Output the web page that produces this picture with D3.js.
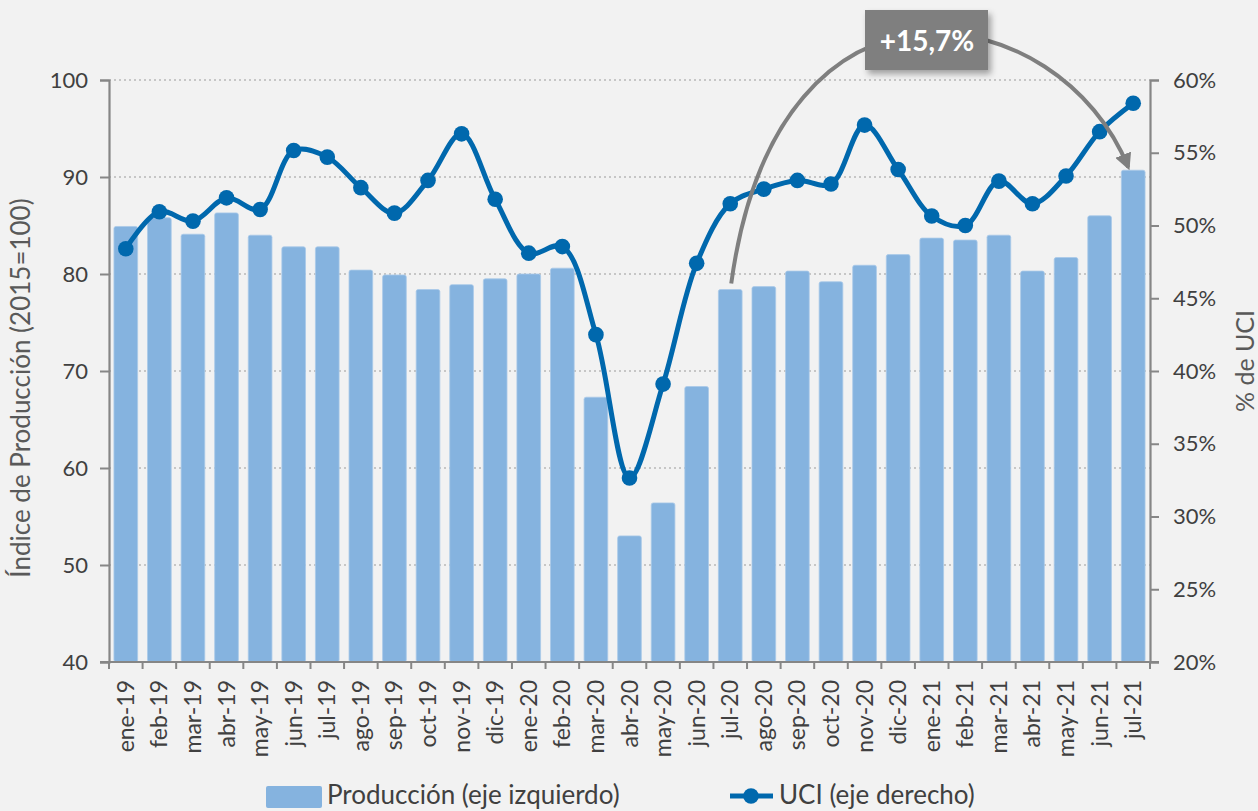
<!DOCTYPE html>
<html>
<head>
<meta charset="utf-8">
<script src="https://cdn.jsdelivr.net/npm/d3@7"></script>
<style>
  body { margin: 0; background: #f2f2f2; }
  svg { display: block; font-family: Lato, "Open Sans", sans-serif; }
</style>
</head>
<body>
<svg id="chart" width="1258" height="811"></svg>
<script>
// data
var months = ["ene-19","feb-19","mar-19","abr-19","may-19","jun-19","jul-19","ago-19","sep-19","oct-19","nov-19","dic-19",
  "ene-20","feb-20","mar-20","abr-20","may-20","jun-20","jul-20","ago-20","sep-20","oct-20","nov-20","dic-20",
  "ene-21","feb-21","mar-21","abr-21","may-21","jun-21","jul-21"];
var produccion = [84.9,85.8,84.1,86.3,84.0,82.8,82.8,80.4,79.9,78.4,78.9,79.5,
  80.0,80.6,67.3,53.0,56.4,68.4,78.4,78.7,80.3,79.2,80.9,82.0,
  83.7,83.5,84.0,80.3,81.7,86.0,90.7];
var uci = [48.4,50.95,50.3,51.9,51.1,55.15,54.7,52.6,50.85,53.1,56.3,51.8,
  48.1,48.55,42.5,32.65,39.1,47.4,51.5,52.5,53.1,52.85,56.9,53.85,
  50.65,50.0,53.05,51.5,53.4,56.45,58.4];
var leftTicks = [40,50,60,70,80,90,100];
var rightTicks = [20,25,30,35,40,45,50,55,60];
var annotationText = "+15,7%";

var svg = d3.select("#chart");
var mLeft = 109, mRight = 1150, mTop = 80, mBottom = 662;
var axisColor = "#868686", textColor = "#404040";

var x = d3.scaleBand().domain(months).range([mLeft, mRight]).paddingInner(0.295).paddingOuter(0.1475);
var yL = d3.scaleLinear().domain([40, 100]).range([mBottom, mTop]);
var yR = d3.scaleLinear().domain([20, 60]).range([mBottom, mTop]);

svg.append("rect").attr("width", 1258).attr("height", 811).attr("fill", "#f2f2f2");

var defs = svg.append("defs");
var shadow = defs.append("filter").attr("id", "shadow").attr("x", "-20%").attr("y", "-20%").attr("width", "150%").attr("height", "160%");
shadow.append("feDropShadow").attr("dx", 3).attr("dy", 4).attr("stdDeviation", 3).attr("flood-color", "#000").attr("flood-opacity", 0.35);
defs.append("marker").attr("id", "arrow").attr("viewBox", "0 0 10 10").attr("refX", 8).attr("refY", 5)
  .attr("markerWidth", 4.2).attr("markerHeight", 4.2).attr("orient", "auto")
  .append("path").attr("d", "M0,0 L10,5 L0,10 z").attr("fill", "#7f7f7f");

// grid lines
svg.append("g").selectAll("line").data(leftTicks.filter(function(d){ return d > 40; }))
  .enter().append("line")
  .attr("x1", mLeft).attr("x2", mRight)
  .attr("y1", function(d){ return yL(d); }).attr("y2", function(d){ return yL(d); })
  .attr("stroke", "#b8b8b8").attr("stroke-width", 1.3).attr("stroke-dasharray", "2,3");

// bars
svg.append("g").selectAll("rect").data(produccion).enter().append("rect")
  .attr("x", function(d, i){ return x(months[i]); })
  .attr("y", function(d){ return yL(d); })
  .attr("width", x.bandwidth())
  .attr("height", function(d){ return yL(40) - yL(d); })
  .attr("rx", 2)
  .attr("fill", "#85b3df")
  .attr("stroke", "#a9c9e9").attr("stroke-width", 0.8);

// axes
var gl = svg.append("g").attr("transform", "translate(" + mLeft + ",0)")
  .call(d3.axisLeft(yL).tickValues(leftTicks).tickSize(9).tickPadding(12));
var gr = svg.append("g").attr("transform", "translate(" + mRight + ",0)")
  .call(d3.axisRight(yR).tickValues(rightTicks).tickSize(9).tickPadding(14).tickFormat(function(d){ return d + "%"; }));
[gl, gr].forEach(function(g){
  g.select(".domain").attr("stroke", axisColor).attr("stroke-width", 2.2);
  g.selectAll(".tick line").attr("stroke", axisColor).attr("stroke-width", 2);
  g.selectAll("text").attr("fill", textColor).style("font-size", "22px").style("font-family", "Lato, sans-serif");
});

// x axis: line, ticks at category boundaries, rotated labels
var gx = svg.append("g");
gx.append("line").attr("x1", mLeft - 9).attr("x2", mRight + 9).attr("y1", mBottom).attr("y2", mBottom)
  .attr("stroke", axisColor).attr("stroke-width", 2.2);
gx.selectAll("line.tk").data(d3.range(months.length + 1)).enter().append("line").attr("class", "tk")
  .attr("x1", function(i){ return mLeft + x.step() * i; })
  .attr("x2", function(i){ return mLeft + x.step() * i; })
  .attr("y1", mBottom).attr("y2", mBottom + 7)
  .attr("stroke", axisColor).attr("stroke-width", 2);
gx.selectAll("text").data(months).enter().append("text")
  .attr("transform", function(d){ return "translate(" + (x(d) + x.bandwidth() / 2 + 8) + "," + (mBottom + 18) + ") rotate(-90)"; })
  .attr("text-anchor", "end")
  .attr("fill", textColor).style("font-size", "23px")
  .text(function(d){ return d; });

// axis titles
svg.append("text").attr("transform", "translate(30,388) rotate(-90)").attr("text-anchor", "middle")
  .attr("fill", "#595959").style("font-size", "26px").text("Índice de Producción (2015=100)");
svg.append("text").attr("transform", "translate(1254,361) rotate(-90)").attr("text-anchor", "middle")
  .attr("fill", "#595959").style("font-size", "25px").text("% de UCI");

// UCI line
var line = d3.line()
  .x(function(d, i){ return x(months[i]) + x.bandwidth() / 2; })
  .y(function(d){ return yR(d); })
  .curve(d3.curveCatmullRom.alpha(0.5));
svg.append("path").datum(uci).attr("d", line).attr("fill", "none")
  .attr("stroke", "#0068ad").attr("stroke-width", 5);
svg.append("g").selectAll("circle").data(uci).enter().append("circle")
  .attr("cx", function(d, i){ return x(months[i]) + x.bandwidth() / 2; })
  .attr("cy", function(d){ return yR(d); })
  .attr("r", 7.8).attr("fill", "#0068ad");

// annotation arc from jul-20 bar to jul-21 bar
var iA = months.indexOf("jul-20"), iB = months.indexOf("jul-21");
var ax0 = x(months[iA]) + x.bandwidth() / 2 + 1, ay0 = yL(produccion[iA]) - 6;
var ax1 = x(months[iB]) + x.bandwidth() / 2 - 5, ay1 = yL(produccion[iB]) - 3;
var arc = d3.path();
arc.moveTo(ax0, ay0);
arc.bezierCurveTo(ax0 + 47, -60, ax1 - 67, 0, ax1, ay1);
svg.append("path").attr("d", arc.toString()).attr("fill", "none")
  .attr("stroke", "#7f7f7f").attr("stroke-width", 4).attr("marker-end", "url(#arrow)");

var box = svg.append("g").attr("transform", "translate(865,10)");
box.append("rect").attr("width", 123).attr("height", 60).attr("fill", "#7f7f7f").attr("filter", "url(#shadow)");
box.append("text").attr("x", 62).attr("y", 41).attr("text-anchor", "middle")
  .attr("fill", "#fff").style("font-size", "28px").style("font-weight", "bold").text(annotationText);

// legend
var lg = svg.append("g");
lg.append("rect").attr("x", 266).attr("y", 786).attr("width", 56).attr("height", 22).attr("rx", 2).attr("fill", "#85b3df");
lg.append("text").attr("x", 327).attr("y", 804).attr("fill", textColor).style("font-size", "26px").text("Producción (eje izquierdo)");
lg.append("line").attr("x1", 730).attr("x2", 773).attr("y1", 796).attr("y2", 796).attr("stroke", "#0068ad").attr("stroke-width", 5);
lg.append("circle").attr("cx", 751).attr("cy", 796).attr("r", 7.8).attr("fill", "#0068ad");
lg.append("text").attr("x", 779).attr("y", 804).attr("fill", textColor).style("font-size", "26px").text("UCI (eje derecho)");
</script>
</body>
</html>
